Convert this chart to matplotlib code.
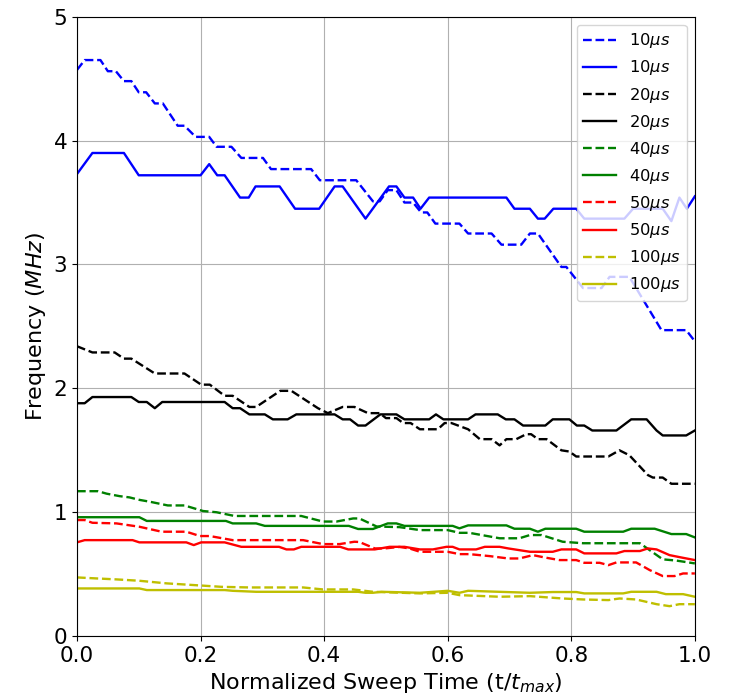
import matplotlib
matplotlib.use("Agg")
import matplotlib.pyplot as plt

# breakpoints (normalized time, frequency in MHz)
x_10_dash = [0, 0.0125, 0.038, 0.050, 0.063, 0.076, 0.088, 0.100, 0.112, 0.126, 0.139, 0.163, 0.174,
             0.192, 0.214, 0.226, 0.250, 0.266, 0.301, 0.314, 0.379, 0.393, 0.452, 0.479, 0.490, 0.503,
             0.517, 0.530, 0.544, 0.557, 0.567, 0.580, 0.619, 0.633, 0.671, 0.687, 0.719, 0.733, 0.746,
             0.784, 0.792, 0.819, 0.849, 0.862, 0.894, 0.946, 0.986, 1.0]
y_10_dash = [4.57, 4.65, 4.65, 4.56, 4.56, 4.48, 4.48, 4.39, 4.39, 4.30, 4.30, 4.12, 4.12,
             4.03, 4.03, 3.95, 3.95, 3.86, 3.86, 3.77, 3.77, 3.68, 3.68, 3.51, 3.51, 3.60,
             3.60, 3.50, 3.50, 3.42, 3.42, 3.33, 3.33, 3.25, 3.25, 3.16, 3.16, 3.25, 3.25,
             2.98, 2.98, 2.81, 2.81, 2.90, 2.90, 2.47, 2.47, 2.38]

x_10_solid = [0, 0.025, 0.076, 0.100, 0.200, 0.214, 0.227, 0.239, 0.264, 0.278, 0.289, 0.328, 0.353,
              0.392, 0.417, 0.430, 0.467, 0.505, 0.517, 0.530, 0.544, 0.556, 0.570, 0.695, 0.708,
              0.733, 0.746, 0.757, 0.771, 0.808, 0.821, 0.886, 0.900, 0.948, 0.962, 0.975, 0.987, 1.0]
y_10_solid = [3.73, 3.90, 3.90, 3.72, 3.72, 3.81, 3.72, 3.72, 3.54, 3.54, 3.63, 3.63, 3.45,
              3.45, 3.63, 3.63, 3.37, 3.63, 3.63, 3.54, 3.54, 3.45, 3.54, 3.54, 3.45,
              3.45, 3.37, 3.37, 3.45, 3.45, 3.37, 3.37, 3.45, 3.45, 3.35, 3.54, 3.45, 3.55]

x_20_dash = [0, 0.025, 0.061, 0.076, 0.088, 0.126, 0.174, 0.201, 0.215, 0.239, 0.252, 0.279, 0.290,
             0.329, 0.347, 0.390, 0.406, 0.430, 0.449, 0.471, 0.490, 0.500, 0.517, 0.528, 0.540,
             0.555, 0.584, 0.595, 0.606, 0.633, 0.652, 0.671, 0.684, 0.695, 0.711, 0.727, 0.735,
             0.746, 0.760, 0.784, 0.797, 0.808, 0.860, 0.878, 0.894, 0.924, 0.932, 0.948, 0.962, 1.0]
y_20_dash = [2.34, 2.29, 2.29, 2.24, 2.24, 2.12, 2.12, 2.03, 2.03, 1.94, 1.94, 1.85, 1.85,
             1.98, 1.98, 1.84, 1.80, 1.85, 1.85, 1.80, 1.80, 1.76, 1.76, 1.72, 1.72,
             1.67, 1.67, 1.72, 1.72, 1.67, 1.59, 1.59, 1.54, 1.59, 1.59, 1.63, 1.63,
             1.59, 1.59, 1.50, 1.49, 1.45, 1.45, 1.50, 1.46, 1.30, 1.28, 1.28, 1.23, 1.23]

x_20_solid = [0, 0.0125, 0.025, 0.088, 0.100, 0.113, 0.126, 0.138, 0.239, 0.252, 0.264, 0.279, 0.304,
              0.317, 0.341, 0.355, 0.417, 0.430, 0.442, 0.455, 0.467, 0.491, 0.517, 0.530, 0.570,
              0.581, 0.593, 0.633, 0.645, 0.681, 0.694, 0.708, 0.722, 0.758, 0.770, 0.797, 0.809,
              0.821, 0.834, 0.873, 0.897, 0.922, 0.938, 0.948, 0.986, 1.0]
y_20_solid = [1.88, 1.88, 1.93, 1.93, 1.89, 1.89, 1.84, 1.89, 1.89, 1.84, 1.84, 1.79, 1.79,
              1.75, 1.75, 1.79, 1.79, 1.75, 1.75, 1.70, 1.70, 1.79, 1.79, 1.75, 1.75,
              1.79, 1.75, 1.75, 1.79, 1.79, 1.75, 1.75, 1.70, 1.70, 1.75, 1.75, 1.70,
              1.70, 1.66, 1.66, 1.75, 1.75, 1.66, 1.62, 1.62, 1.66]

x_40_dash = [0, 0.034, 0.048, 0.069, 0.085, 0.101, 0.118, 0.147, 0.174, 0.204, 0.226, 0.255, 0.363,
             0.398, 0.420, 0.447, 0.457, 0.485, 0.522, 0.555, 0.600, 0.619, 0.635, 0.684, 0.716,
             0.733, 0.752, 0.786, 0.819, 0.911, 0.948, 0.970, 1.0]
y_40_dash = [1.17, 1.17, 1.15, 1.13, 1.12, 1.10, 1.085, 1.055, 1.055, 1.01, 1.00, 0.97, 0.97,
             0.925, 0.925, 0.95, 0.95, 0.885, 0.88, 0.856, 0.856, 0.834, 0.834, 0.79, 0.79,
             0.816, 0.816, 0.762, 0.75, 0.75, 0.62, 0.61, 0.587]

x_40_solid = [0, 0.101, 0.113, 0.241, 0.252, 0.290, 0.304, 0.440, 0.455, 0.479, 0.503, 0.517, 0.530,
              0.608, 0.619, 0.633, 0.695, 0.708, 0.733, 0.746, 0.758, 0.808, 0.821, 0.884, 0.897,
              0.935, 0.962, 0.986, 1.0]
y_40_solid = [0.96, 0.96, 0.93, 0.93, 0.91, 0.91, 0.89, 0.89, 0.865, 0.865, 0.91, 0.91, 0.89,
              0.89, 0.87, 0.894, 0.894, 0.867, 0.867, 0.843, 0.867, 0.867, 0.843, 0.843, 0.867,
              0.867, 0.824, 0.824, 0.797]

x_50_dash = [0, 0.0125, 0.025, 0.064, 0.101, 0.137, 0.177, 0.199, 0.215, 0.252, 0.366, 0.398, 0.425,
             0.449, 0.457, 0.482, 0.498, 0.522, 0.538, 0.555, 0.600, 0.619, 0.635, 0.668, 0.698,
             0.716, 0.738, 0.757, 0.781, 0.808, 0.821, 0.846, 0.860, 0.873, 0.905, 0.927, 0.948,
             0.967, 0.981, 1.0]
y_50_dash = [0.937, 0.937, 0.915, 0.91, 0.883, 0.843, 0.843, 0.808, 0.808, 0.775, 0.775, 0.743, 0.743,
             0.762, 0.76, 0.708, 0.708, 0.72, 0.708, 0.681, 0.681, 0.662, 0.662, 0.646, 0.627,
             0.627, 0.654, 0.635, 0.614, 0.614, 0.592, 0.592, 0.573, 0.595, 0.595, 0.533, 0.485,
             0.485, 0.506, 0.506]

x_50_solid = [0, 0.0125, 0.090, 0.101, 0.177, 0.189, 0.201, 0.239, 0.266, 0.327, 0.339, 0.351, 0.363,
              0.426, 0.439, 0.482, 0.506, 0.530, 0.555, 0.576, 0.598, 0.608, 0.619, 0.646, 0.660,
              0.684, 0.698, 0.733, 0.770, 0.784, 0.808, 0.821, 0.873, 0.886, 0.911, 0.924, 0.938,
              0.959, 0.978, 1.0]
y_50_solid = [0.757, 0.775, 0.775, 0.757, 0.757, 0.735, 0.757, 0.757, 0.721, 0.721, 0.70, 0.70, 0.721,
              0.721, 0.70, 0.70, 0.721, 0.721, 0.70, 0.70, 0.721, 0.721, 0.70, 0.70, 0.721,
              0.721, 0.708, 0.681, 0.681, 0.70, 0.70, 0.668, 0.668, 0.687, 0.687, 0.708, 0.70,
              0.654, 0.635, 0.614]

x_100_dash = [0, 0.031, 0.064, 0.101, 0.145, 0.190, 0.234, 0.279, 0.366, 0.398, 0.447, 0.479, 0.555,
              0.600, 0.619, 0.684, 0.733, 0.786, 0.819, 0.860, 0.878, 0.905, 0.938, 0.959, 0.975, 1.0]
y_100_dash = [0.474, 0.466, 0.458, 0.447, 0.426, 0.412, 0.398, 0.393, 0.393, 0.377, 0.377, 0.358, 0.345,
              0.35, 0.331, 0.318, 0.323, 0.304, 0.296, 0.291, 0.304, 0.296, 0.258, 0.242, 0.258, 0.258]

x_100_solid = [0, 0.101, 0.113, 0.239, 0.252, 0.290, 0.455, 0.467, 0.479, 0.493, 0.555, 0.600, 0.619,
               0.633, 0.733, 0.770, 0.808, 0.821, 0.884, 0.897, 0.938, 0.953, 0.981, 1.0]
y_100_solid = [0.385, 0.385, 0.372, 0.372, 0.366, 0.358, 0.358, 0.35, 0.35, 0.358, 0.35, 0.366, 0.35,
               0.366, 0.35, 0.356, 0.356, 0.345, 0.345, 0.358, 0.358, 0.339, 0.339, 0.318]

series = [
    (x_10_dash, y_10_dash, 'b', '--', r'10$\mu s$'),
    (x_10_solid, y_10_solid, 'b', '-', r'10$\mu s$'),
    (x_20_dash, y_20_dash, 'k', '--', r'20$\mu s$'),
    (x_20_solid, y_20_solid, 'k', '-', r'20$\mu s$'),
    (x_40_dash, y_40_dash, 'g', '--', r'40$\mu s$'),
    (x_40_solid, y_40_solid, 'g', '-', r'40$\mu s$'),
    (x_50_dash, y_50_dash, 'r', '--', r'50$\mu s$'),
    (x_50_solid, y_50_solid, 'r', '-', r'50$\mu s$'),
    (x_100_dash, y_100_dash, 'y', '--', r'100$\mu s$'),
    (x_100_solid, y_100_solid, 'y', '-', r'100$\mu s$'),
]

fig = plt.figure(figsize=(7.4, 6.96), dpi=100)
ax = fig.add_subplot(111)
fig.subplots_adjust(left=0.104, right=0.939, top=0.976, bottom=0.086)

for xs, ys, c, ls, lab in series:
    ax.plot(xs, ys, color=c, linestyle=ls, linewidth=1.7, label=lab)

ax.set_xlim(0, 1)
ax.set_ylim(0, 5)
ax.grid(True)
ax.tick_params(labelsize=15.5)
ax.set_xlabel(r'Normalized Sweep Time (t/$t_{max}$)', fontsize=16)
ax.set_ylabel(r'Frequency ($MHz$)', fontsize=16)
ax.legend(loc='upper right', fontsize=11.7)

fig.savefig('out.png', dpi=100)
